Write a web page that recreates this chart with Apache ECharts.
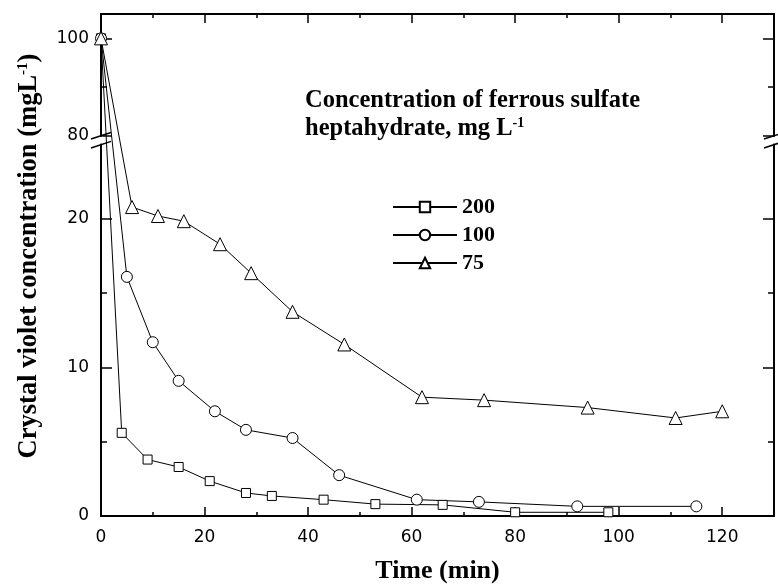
<!DOCTYPE html>
<html><head><meta charset="utf-8">
<script src="https://cdn.jsdelivr.net/npm/echarts@6/dist/echarts.min.js"></script>
<style>html,body{margin:0;padding:0;background:#fff}#c{width:778px;height:585px}</style>
</head><body><div id="c"></div>
<script>
// ---- data ----
const seriesNames = ['200', '100', '75'];
const time200 = [0, 4, 9, 15, 21, 28, 33, 43, 53, 66, 80, 98];
const conc200 = [100, 5.6, 3.8, 3.3, 2.35, 1.55, 1.35, 1.1, 0.8, 0.75, 0.25, 0.25];
const time100 = [0, 5, 10, 15, 22, 28, 37, 46, 61, 73, 92, 115];
const conc100 = [100, 16.1, 11.7, 9.1, 7.05, 5.8, 5.25, 2.75, 1.1, 0.95, 0.65, 0.65];
const time75 = [0, 6, 11, 16, 23, 29, 37, 47, 62, 74, 94, 111, 120];
const conc75 = [100, 20.8, 20.2, 19.85, 18.3, 16.35, 13.75, 11.55, 8.0, 7.8, 7.3, 6.6, 7.05];
const xMajorTicks = [0, 20, 40, 60, 80, 100, 120];
const xMinorTicks = [10, 30, 50, 70, 90, 110];
const yMajorTicks = [0, 10, 20, 80, 100];
const yMinorTicks = [5, 15, 90];
const xTitle = 'Time (min)';
const yTitle = 'Crystal violet concentration (mgL{sup|-1})';
const noteLine1 = 'Concentration of ferrous sulfate';
const noteLine2 = 'heptahydrate, mg L{sup|-1}';

// ---- broken y axis: lower 0-25, upper 80-105 (compressed) ----
const LOW_MAX = 25, UP_MIN = 80, UP_MAX = 105;
const GAP = 0.6, K = 0.328;
function T(v) { return v <= LOW_MAX ? v : LOW_MAX + GAP + (v - UP_MIN) * K; }
function Tinv(t) { return t <= LOW_MAX + GAP / 2 ? t : UP_MIN + (t - LOW_MAX - GAP) / K; }
const yMax = T(UP_MAX);

const SERIF = 'Liberation Serif';
const SANS = 'DejaVu Sans';
const black = '#000';

function xAxisDef(pos, ticks, len, labels, extra) {
  return Object.assign({
    type: 'value', gridIndex: 0, position: pos, min: 0, max: 130,
    axisLine: { show: labels !== null, onZero: false, lineStyle: { color: black, width: 2 } },
    axisTick: { show: true, inside: true, length: len, customValues: ticks, lineStyle: { color: black, width: 1.5 } },
    axisLabel: labels ? { show: true, customValues: labels, color: black, fontFamily: SANS, fontSize: 17, margin: 13 } : { show: false },
    splitLine: { show: false }
  }, extra || {});
}
function yAxisDef(pos, ticks, len, labels, extra) {
  return Object.assign({
    type: 'value', gridIndex: 0, position: pos, min: 0, max: yMax,
    axisLine: { show: labels !== null, onZero: false, lineStyle: { color: black, width: 2 } },
    axisTick: { show: true, inside: true, length: len, customValues: ticks.map(T), lineStyle: { color: black, width: 1.5 } },
    axisLabel: labels ? {
      show: true, customValues: labels.map(T), color: black, fontFamily: SANS, fontSize: 17, margin: 12,
      formatter: v => String(Math.round(Tinv(v)))
    } : { show: false },
    splitLine: { show: false }
  }, extra || {});
}

const symbols = ['rect', 'circle', 'triangle'];
const sizes = [9, 11, 13];
const times = [time200, time100, time75];
const concs = [conc200, conc100, conc75];

const option = {
  animation: false,
  backgroundColor: '#fff',
  grid: { left: 101, top: 14, width: 673, height: 502, containLabel: false, outerBoundsMode: 'none' },
  xAxis: [
    xAxisDef('bottom', xMajorTicks, 9, xMajorTicks, {
      name: xTitle, nameLocation: 'middle', nameGap: 42,
      nameTextStyle: { fontFamily: SERIF, fontWeight: 'bold', fontSize: 26, color: black }
    }),
    xAxisDef('bottom', xMinorTicks, 4, null),
    xAxisDef('top', xMajorTicks, 9, false),
    xAxisDef('top', xMinorTicks, 4, null)
  ],
  yAxis: [
    yAxisDef('left', yMajorTicks, 11, yMajorTicks, {
      name: yTitle, nameLocation: 'middle', nameGap: 58,
      nameTextStyle: {
        fontFamily: SERIF, fontWeight: 'bold', fontSize: 26.5, color: black, padding: [0, 0, 0, 18],
        rich: { sup: { fontFamily: SERIF, fontWeight: 'bold', fontSize: 15, color: black, verticalAlign: 'top' } }
      }
    }),
    yAxisDef('left', yMinorTicks, 6, null),
    yAxisDef('right', yMajorTicks, 11, false),
    yAxisDef('right', yMinorTicks, 6, null)
  ],
  legend: {
    orient: 'vertical', left: 387, top: 191,
    itemWidth: 64, itemHeight: 13, itemGap: 6,
    textStyle: { fontFamily: SERIF, fontWeight: 'bold', fontSize: 22, color: black },
    data: seriesNames
  },
  series: seriesNames.map((n, i) => ({
    name: n, type: 'line', xAxisIndex: 0, yAxisIndex: 0,
    data: times[i].map((t, j) => [t, T(concs[i][j])]),
    symbol: symbols[i], symbolSize: sizes[i], showAllSymbol: true,
    itemStyle: { color: '#fff', borderColor: black, borderWidth: 1 },
    lineStyle: { color: black, width: 1 },
    emphasis: { disabled: true }
  }))
};

const chart = echarts.init(document.getElementById('c'), null, { renderer: 'canvas' });
chart.setOption(option);

const yUp = chart.convertToPixel({ yAxisIndex: 0 }, T(UP_MIN));
const yLow = chart.convertToPixel({ yAxisIndex: 0 }, LOW_MAX);
const xL = chart.convertToPixel({ xAxisIndex: 0 }, 0);
const xR = chart.convertToPixel({ xAxisIndex: 0 }, 130);
function breakMarks(x) {
  return [
    { type: 'rect', shape: { x: x - 2, y: yUp + 1, width: 4, height: yLow - yUp - 2 }, style: { fill: '#fff' }, z: 100 },
    { type: 'line', shape: { x1: x - 10, y1: yUp + 3.3, x2: x + 10, y2: yUp - 3.3 }, style: { stroke: black, lineWidth: 1.5 }, z: 101 },
    { type: 'line', shape: { x1: x - 10, y1: yLow + 3.3, x2: x + 10, y2: yLow - 3.3 }, style: { stroke: black, lineWidth: 1.5 }, z: 101 }
  ];
}
const noteStyle = { fontFamily: SERIF, fontWeight: 'bold', fontSize: 24.5, fill: black,
  rich: { sup: { fontFamily: SERIF, fontWeight: 'bold', fontSize: 14, fill: black, verticalAlign: 'top' } } };
chart.setOption({
  graphic: breakMarks(xL).concat(breakMarks(xR)).concat([
    { type: 'text', left: 305, top: 88, style: Object.assign({ text: noteLine1 }, noteStyle) },
    { type: 'text', left: 305, top: 116, style: Object.assign({ text: noteLine2 }, noteStyle) }
  ])
});
</script></body></html>
